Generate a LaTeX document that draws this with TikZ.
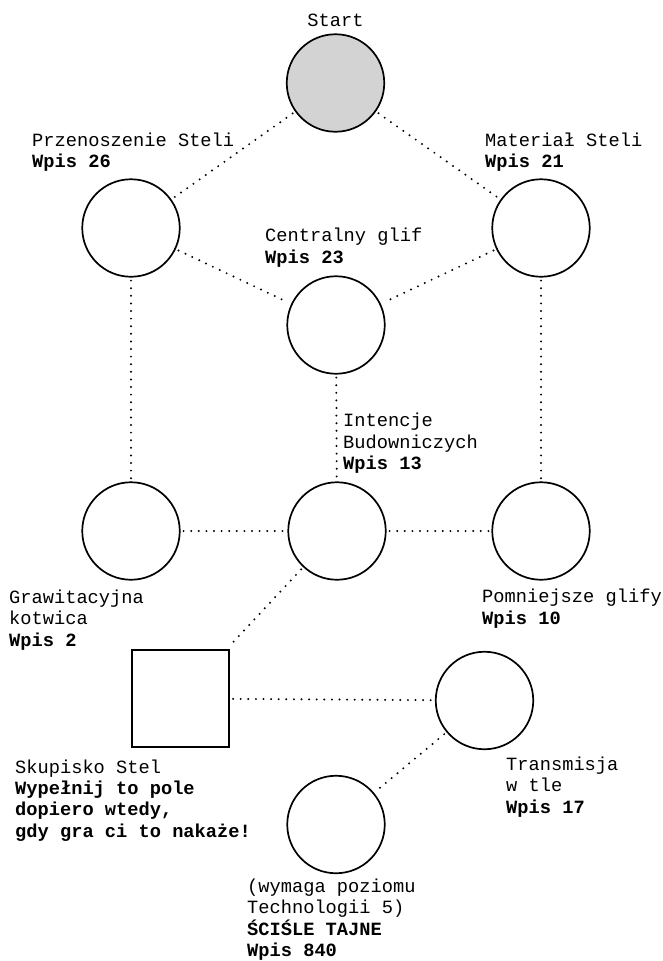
\documentclass[tikz,border=0pt]{standalone}
\usepackage{fontspec}
\setmonofont{Liberation Mono}
\newcommand\labfont{\ttfamily\fontsize{18.7pt}{21.3pt}\selectfont}
\begin{document}
\begin{tikzpicture}[x=1pt,y=-1pt,
  circ/.style={circle, draw, line width=1.7pt, minimum size=97.5pt, inner sep=0pt},
  sqbox/.style={rectangle, draw, line width=1.7pt, minimum size=97.5pt, inner sep=0pt},
  link/.style={line width=2.2pt, line cap=round, dash pattern=on 0pt off 7.6pt, shorten <=3pt, shorten >=3pt},
  lbl/.style={anchor=base west, align=left, inner sep=0pt, font=\labfont}]
\useasboundingbox (0,0) rectangle (663,961);
% shapes
\node[circ, fill={rgb,255:red,211;green,211;blue,211}] (s) at (335.5,83) {};
\node[circ] (a) at (131,228) {};
\node[circ] (b) at (541,228) {};
\node[circ] (c) at (336,325) {};
\node[circ] (d) at (131,531) {};
\node[circ] (e) at (337,531) {};
\node[circ] (f) at (541,531) {};
\node[sqbox] (g) at (180.5,698.5) {};
\node[circ] (h) at (484.5,700.5) {};
\node[circ] (i) at (336,824.5) {};
% connectors
\draw[link] (s) -- (a);
\draw[link] (s) -- (b);
\draw[link] (a) -- (c);
\draw[link] (b) -- (c);
\draw[link] (a) -- (d);
\draw[link] (b) -- (f);
\draw[link] (c) -- (e);
\draw[link] (d) -- (e);
\draw[link] (e) -- (f);
\draw[link] (e) -- (g);
\draw[link] (g) -- (h);
\draw[link] (h) -- (i);
% labels (base = baseline of last line)
\node[anchor=base, inner sep=0pt, font=\labfont] (ls) at (335.5,27) {Start};
\node[lbl] (la) at (32,167.3) {Przenoszenie Steli\\\textbf{Wpis 26}};
\node[lbl] (lb) at (485,167.3) {Materiał Steli\\\textbf{Wpis 21}};
\node[lbl] (lc) at (265,263) {Centralny glif\\\textbf{Wpis 23}};
\node[lbl] (le) at (343,469.5) {Intencje\\Budowniczych\\\textbf{Wpis 13}};
\node[lbl] (ld) at (9,646) {Grawitacyjna\\kotwica\\\textbf{Wpis 2}};
\node[lbl] (lf) at (482,624) {Pomniejsze glify\\\textbf{Wpis 10}};
\node[lbl] (lg) at (15,837) {Skupisko Stel\\\textbf{Wypełnij to pole}\\\textbf{dopiero wtedy,}\\\textbf{gdy gra ci to nakaże!}};
\node[lbl] (lh) at (506,813) {Transmisja\\w tle\\\textbf{Wpis 17}};
\node[lbl] (li) at (247,956.5) {(wymaga poziomu\\Technologii 5)\\\textbf{ŚCIŚLE TAJNE}\\\textbf{Wpis 840}};
\end{tikzpicture}
\end{document}
